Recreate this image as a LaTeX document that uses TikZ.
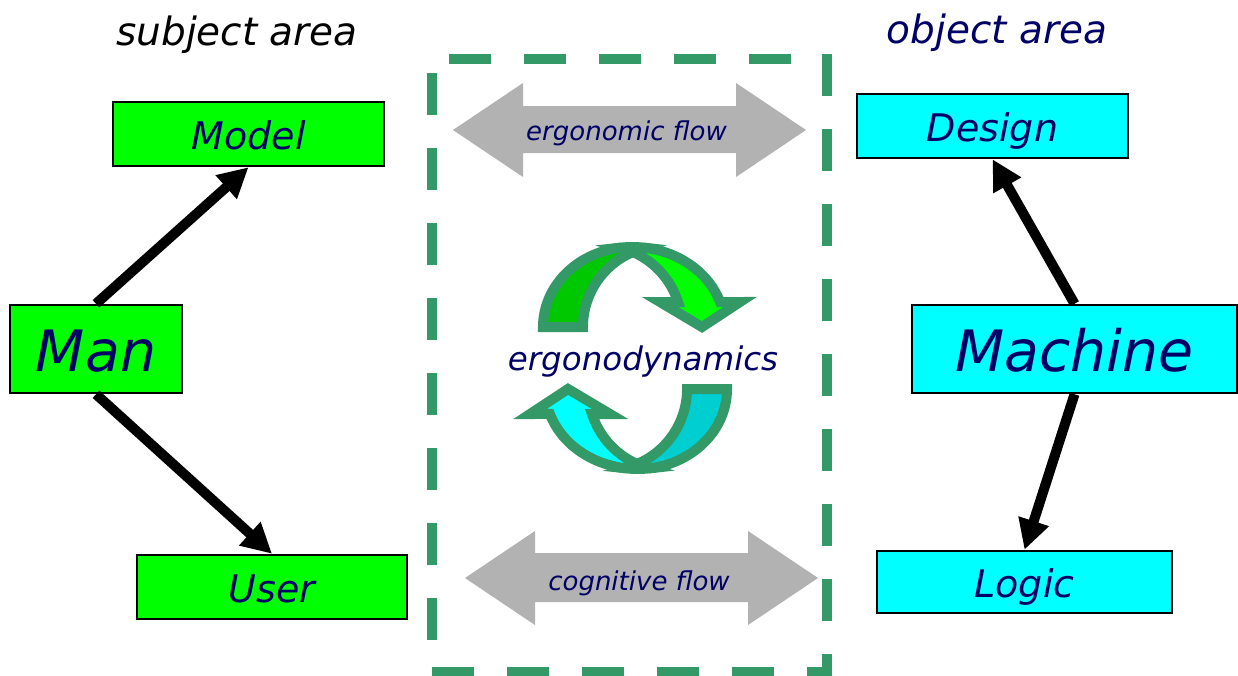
\documentclass[tikz,border=0pt]{standalone}
\usepackage{fontspec}
\setmainfont{DejaVu Sans}
\usetikzlibrary{arrows.meta}

\definecolor{boxgreen}{HTML}{00FF00}
\definecolor{boxcyan}{HTML}{00FFFF}
\definecolor{ink}{HTML}{000066}
\definecolor{framegreen}{HTML}{339966}
\definecolor{flowgray}{HTML}{B2B2B2}
\definecolor{darkleaf}{HTML}{00C800}
\definecolor{darkaqua}{HTML}{00CED1}

% one half of the cycle symbol: a back leg (#1) and a curved arrow (#2)
\newcommand{\loopband}[2]{%
  % back leg
  \filldraw[fill=#1, bandline]
    (543,327) arc[start angle=180, end angle=262, x radius=89, y radius=80]
    -- (633,252)
    arc[start angle=247.4, end angle=180, radius=81.25] -- cycle;
  % curved arrow with its head
  \filldraw[fill=#2, bandline]
    (645,247.8) arc[start angle=278, end angle=341.8, x radius=92.6, y radius=80]
    -- (740,302) -- (702,327) -- (660,302) -- (678,302)
    arc[start angle=342.2, end angle=293.7, radius=81.9] -- cycle;
  % crossing where the two parts meet
  \filldraw[fill=framegreen, bandline]
    (619.6,247.8) arc[start angle=262, end angle=278, x radius=90.5, y radius=80]
    -- (633,252) -- cycle;
}

\begin{document}
\begin{tikzpicture}[x=1pt, y=-1pt,
  box/.style={draw=black, line width=2.5pt, inner sep=0pt,
    text height=30pt, text depth=0pt, text=ink,
    font=\fontsize{38}{44}\selectfont\itshape},
  bigbox/.style={box, text height=45pt, font=\fontsize{57}{66}\selectfont\itshape},
  conn/.style={line width=10pt, -{Triangle[length=30pt, width=30pt]}},
  heading/.style={anchor=base, font=\fontsize{39}{46}\selectfont\itshape},
  flowtext/.style={anchor=base, text=ink, font=\fontsize{26}{31}\selectfont\itshape},
  flowarrow/.style={fill=flowgray},
  framedash/.style={draw=framegreen, line width=10pt,
    dash pattern=on 42pt off 33pt},
  bandline/.style={draw=framegreen, line width=10pt}]

  \fill[white] (0,0) rectangle (1238,675);
  \useasboundingbox (0,0) rectangle (1238,675);

  % headings
  \node[heading] (subj) at (237,45) {subject area};
  \node[heading, text=ink] (obj) at (997,43) {object area};

  % subject side
  \node[box, fill=boxgreen, minimum width=271pt, minimum height=64pt] (model) at (248.5,134) {Model};
  \node[bigbox, fill=boxgreen, minimum width=172pt, minimum height=88pt] (man) at (96,349) {Man};
  \node[box, fill=boxgreen, minimum width=270pt, minimum height=64pt] (user) at (272,587) {User};

  % object side
  \node[box, fill=boxcyan, minimum width=271pt, minimum height=64pt] (design) at (992.5,126) {Design};
  \node[bigbox, fill=boxcyan, minimum width=325pt, minimum height=88pt] (machine) at (1074.5,349) {Machine};
  \node[box, fill=boxcyan, minimum width=295pt, minimum height=62pt] (logic) at (1024.5,582) {Logic};

  \draw[conn] (man.north) -- (model.south);
  \draw[conn] (man.south) -- (user.north);
  \draw[conn] (machine.north) -- (design.south);
  \draw[conn] (machine.south) -- (logic.north);

  % dashed frame round the middle
  \draw[framedash, dash phase=58pt] (432,59) -- (827,59);
  \draw[framedash] (827,54) -- (827,675);
  \draw[framedash] (432,672) -- (832,672);
  \draw[framedash, dash phase=61pt] (432,59) -- (432,672);

  % two-headed flow arrows
  \fill[flowarrow] (453,130) -- (523,83) -- (523,106) -- (736,106) -- (736,83)
    -- (806,130) -- (736,177) -- (736,153) -- (523,153) -- (523,177) -- cycle;
  \node[flowtext] (ergoflow) at (626.5,140) {ergonomic flow};

  \fill[flowarrow] (465,578) -- (535,531) -- (535,553) -- (748,553) -- (748,531)
    -- (818,578) -- (748,625) -- (748,602) -- (535,602) -- (535,625) -- cycle;
  \node[flowtext] (cogflow) at (639,590) {cognitive flow};

  % cycle symbol
  \loopband{darkleaf}{boxgreen}
  \begin{scope}[rotate around={180:(635,358)}]
    \loopband{darkaqua}{boxcyan}
  \end{scope}
  \node[anchor=base, text=ink, font=\fontsize{32.5}{39}\selectfont\itshape] (dyn) at (643,370) {ergonodynamics};
\end{tikzpicture}
\end{document}
